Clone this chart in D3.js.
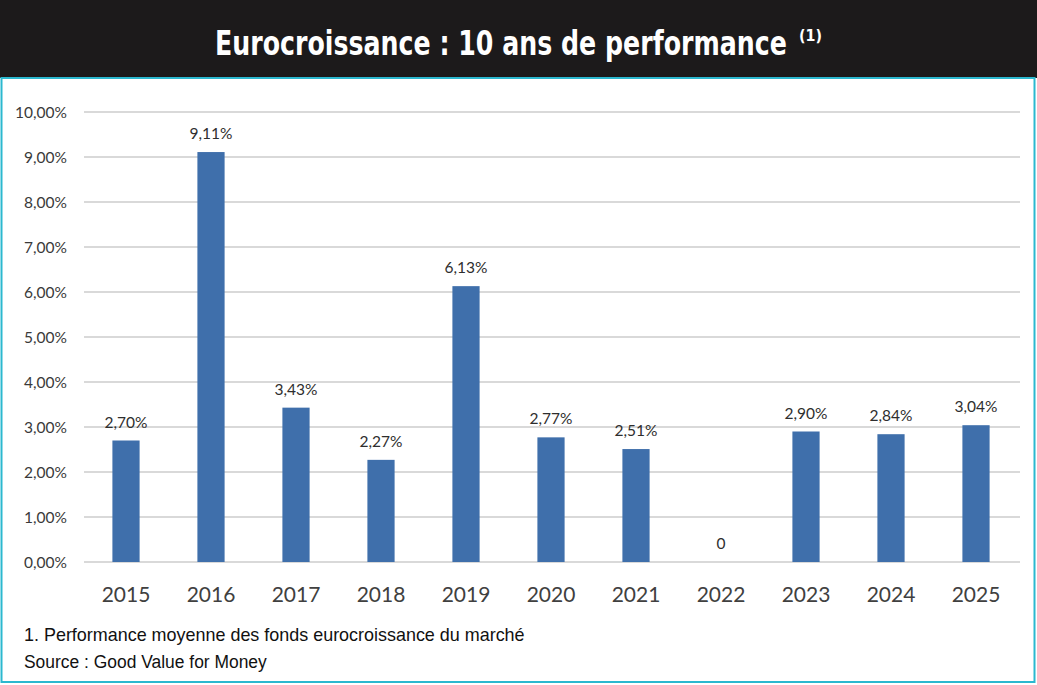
<!DOCTYPE html>
<html><head><meta charset="utf-8">
<script src="https://cdn.jsdelivr.net/npm/d3@7"></script>
<style>body{margin:0;background:#fff;}svg{display:block;}</style>
</head><body>
<svg id="c" width="1037" height="685"></svg>
<script>
const years = ["2015","2016","2017","2018","2019","2020","2021","2022","2023","2024","2025"];
const values = [2.70, 9.11, 3.43, 2.27, 6.13, 2.77, 2.51, 0, 2.90, 2.84, 3.04];
const valueLabels = ["2,70%","9,11%","3,43%","2,27%","6,13%","2,77%","2,51%","0","2,90%","2,84%","3,04%"];
const yTicks = [0,1,2,3,4,5,6,7,8,9,10];
const titleText = "Eurocroissance : 10 ans de performance";
const titleNote = "(1)";
const notes = ["1. Performance moyenne des fonds eurocroissance du marché", "Source : Good Value for Money"];

const svg = d3.select("#c");
svg.append("rect").attr("x",0).attr("y",0).attr("width",1037).attr("height",78).attr("fill","#1c1a1b");
svg.append("rect").attr("x",1.5).attr("y",78).attr("width",1033).attr("height",604).attr("fill","none").attr("stroke","#2bb8cf").attr("stroke-width",2);

// title: compress horizontally with a transform so its box matches what is drawn
function squeezed(parent, str, x0, y0, size, width, family, weight, fill) {
  const gg = parent.append("g");
  const tx = gg.append("text").attr("x",0).attr("y",0).attr("fill",fill)
    .style("font-family",family).style("font-weight",weight).style("font-size",size+"px").text(str);
  const w = tx.node().getComputedTextLength();
  gg.attr("transform",`translate(${x0},${y0}) scale(${width/w},1)`);
  return gg;
}
squeezed(svg, titleText, 215, 55, 33, 572, "'DejaVu Sans'", "bold", "#fff");
squeezed(svg, titleNote, 799, 41, 16, 23, "'DejaVu Sans'", "bold", "#fff");

const x = d3.scaleBand().domain(years).range([83.5,1018.5]).paddingInner(0.68).paddingOuter(0.34);
const y = d3.scaleLinear().domain([0,10]).range([562,112]);

const g = svg.append("g");
g.selectAll("line.grid").data(yTicks).join("line").attr("class","grid")
  .attr("x1",84).attr("x2",1020).attr("y1",d=>y(d)).attr("y2",d=>y(d))
  .attr("stroke","#d9d9d9").attr("stroke-width",2);

const lab = "Lato, 'Open Sans', sans-serif";
g.selectAll("text.yt").data(yTicks).join("text").attr("class","yt")
  .attr("x",67).attr("y",d=>y(d)+5.5).attr("text-anchor","end")
  .attr("fill","#3a3a3a").style("font-family",lab).style("font-size","15.5px")
  .text(d=>d3.format(".2f")(d).replace(".",",")+"%");

g.selectAll("rect.bar").data(values).join("rect").attr("class","bar")
  .attr("x",(d,i)=>x(years[i])).attr("width",x.bandwidth())
  .attr("y",d=>y(d)).attr("height",d=>y(0)-y(d)).attr("fill","#3f6fab");

g.selectAll("text.vl").data(values).join("text").attr("class","vl")
  .attr("x",(d,i)=>x(years[i])+x.bandwidth()/2).attr("y",d=>y(d)-13)
  .attr("text-anchor","middle").attr("fill","#2e2e2e").style("font-family",lab).style("font-size","15.5px")
  .text((d,i)=>valueLabels[i]);

g.selectAll("text.xl").data(years).join("text").attr("class","xl")
  .attr("x",d=>x(d)+x.bandwidth()/2).attr("y",602).attr("text-anchor","middle")
  .attr("fill","#404040").style("font-family",lab).style("font-size","21px")
  .text(d=>d);

const noteLen = [501, 243];
notes.forEach((n,i)=>squeezed(svg, n, 24, 641+i*27, 19, noteLen[i], "'Liberation Sans Narrow','Liberation Sans',sans-serif", "normal", "#111"));
</script>
</body></html>
